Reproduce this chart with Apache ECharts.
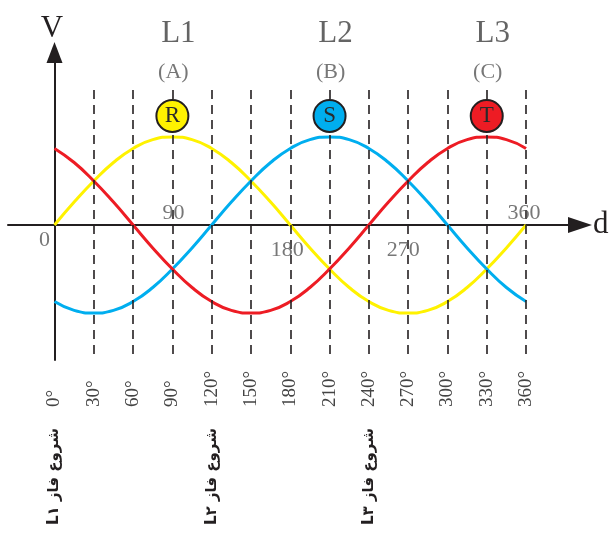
<!DOCTYPE html>
<html>
<head>
<meta charset="utf-8">
<script src="https://cdn.jsdelivr.net/npm/echarts@6/dist/echarts.min.js"></script>
<style>
  html, body { margin: 0; padding: 0; background: #fff; }
  #chart { width: 613px; height: 536px; }
</style>
</head>
<body>
<div id="chart"></div>
<script>
// angles in degrees, one sample every 15
const angles = [0, 15, 30, 45, 60, 75, 90, 105, 120, 135, 150, 165, 180,
  195, 210, 225, 240, 255, 270, 285, 300, 315, 330, 345, 360];
// normalised voltage (peak = 1)
const phaseL1 = [0, 0.26, 0.5, 0.71, 0.87, 0.97, 1, 0.97, 0.87, 0.71, 0.5, 0.26, 0,
  -0.26, -0.5, -0.71, -0.87, -0.97, -1, -0.97, -0.87, -0.71, -0.5, -0.26, 0];
const phaseL2 = [-0.87, -0.97, -1, -0.97, -0.87, -0.71, -0.5, -0.26, 0, 0.26, 0.5, 0.71, 0.87,
  0.97, 1, 0.97, 0.87, 0.71, 0.5, 0.26, 0, -0.26, -0.5, -0.71, -0.87];
const phaseL3 = [0.87, 0.71, 0.5, 0.26, 0, -0.26, -0.5, -0.71, -0.87, -0.97, -1, -0.97, -0.87,
  -0.71, -0.5, -0.26, 0, 0.26, 0.5, 0.71, 0.87, 0.97, 1, 0.97, 0.87];

const gridAngles = [30, 60, 90, 120, 150, 180, 210, 240, 270, 300, 330, 360];
const degreeTicks = [0, 30, 60, 90, 120, 150, 180, 210, 240, 270, 300, 330, 360];
const axisNumbers = [0, 90, 180, 270, 360];

const peakAngles = [90, 210, 330];
const peakNames = ['L1', 'L2', 'L3'];
const peakLetters = ['(A)', '(B)', '(C)'];
const peakSymbols = ['R', 'S', 'T'];

const startAngles = [0, 120, 240];
const startLabels = ['شروع فاز L۱', 'شروع فاز L۲', 'شروع فاز L۳'];

const colors = ['#fff200', '#00aeef', '#ed1c24'];
const ink = '#231f20';
const serif = '"Liberation Serif", "DejaVu Serif", serif';

const xMin = -35.5, xMax = 401.2;
const yMin = -1.534, yMax = 1.96;
const guideTop = 1.534;
const badgeY = 1.239;

const toPairs = vals => angles.map((a, i) => [a, vals[i]]);

const numberOffsets = { 0: [-10, 15], 90: [1, -12], 180: [-3, 25], 270: [-5, 25], 360: [-2, -12] };

const labelAxis = (values, margin, style, fmt) => ({
  type: 'value', min: xMin, max: xMax, position: 'bottom',
  axisLine: { show: false, onZero: false },
  axisTick: { show: false },
  splitLine: { show: false },
  axisLabel: Object.assign({
    customValues: values, rotate: 90, align: 'left', margin: margin, formatter: fmt
  }, style)
});

const chart = echarts.init(document.getElementById('chart'));
chart.setOption({
  animation: false,
  backgroundColor: '#fff',
  grid: { left: 8, right: 33, top: 52.5, bottom: 176 },
  xAxis: [
    {
      type: 'value', min: xMin, max: xMax,
      name: 'd', nameLocation: 'end', nameGap: 13,
      nameTextStyle: { fontFamily: serif, fontSize: 31, color: ink, verticalAlign: 'middle' },
      axisLine: { onZero: true, symbol: ['none', 'triangle'], symbolSize: [16, 24], lineStyle: { color: ink, width: 2 } },
      axisTick: { show: false }, axisLabel: { show: false }, splitLine: { show: false }
    },
    labelAxis(degreeTicks, 47, { fontFamily: serif, fontSize: 19, color: '#444' }, v => v + '°'),
    labelAxis(startAngles, 165, { fontFamily: '"DejaVu Sans", sans-serif', fontSize: 15, fontWeight: 'bold', color: ink },
      v => '\u202B' + startLabels[startAngles.indexOf(v)] + '\u202C')
  ],
  yAxis: {
    type: 'value', min: yMin, max: yMax,
    name: 'V', nameLocation: 'end', nameGap: 8,
    nameTextStyle: { fontFamily: serif, fontSize: 31, color: ink, padding: [0, 5, 0, 0] },
    axisLine: { onZero: true, symbol: ['none', 'triangle'], symbolSize: [16, 21], lineStyle: { color: ink, width: 2 } },
    axisTick: { show: false }, axisLabel: { show: false }, splitLine: { show: false }
  },
  series: [
    {
      name: 'guides', type: 'line', data: [], z: 1, silent: true,
      markLine: {
        silent: true, symbol: ['none', 'none'], label: { show: false },
        lineStyle: { color: ink, width: 1.6, type: [9, 6] },
        data: gridAngles.map(a => [{ coord: [a, guideTop] }, { coord: [a, yMin] }])
      }
    },
    ...[phaseL1, phaseL2, phaseL3].map((vals, i) => ({
      name: peakNames[i], type: 'line', data: toPairs(vals), smooth: true,
      symbol: 'none', z: 3, lineStyle: { color: colors[i], width: 3 }
    })),
    {
      name: 'badges', type: 'scatter', z: 5, symbolSize: 32,
      data: peakAngles.map((a, i) => ({ value: [a, badgeY], itemStyle: { color: colors[i] } })),
      itemStyle: { borderColor: ink, borderWidth: 2, opacity: 1 },
      label: {
        show: true, position: 'inside', fontFamily: serif, fontSize: 23, color: '#2a2a2a',
        formatter: p => peakSymbols[p.dataIndex]
      }
    },
    {
      name: 'names', type: 'scatter', z: 5, symbolSize: 0, clip: false,
      data: peakAngles.map(a => [a, badgeY]),
      label: {
        show: true, position: 'inside', offset: [6, -82], fontFamily: serif, fontSize: 31, color: '#3d3d3d',
        formatter: p => peakNames[p.dataIndex]
      }
    },
    {
      name: 'letters', type: 'scatter', z: 5, symbolSize: 0, clip: false,
      data: peakAngles.map(a => [a, badgeY]),
      label: {
        show: true, position: 'inside', offset: [1, -44], fontFamily: serif, fontSize: 22, color: '#555',
        formatter: p => peakLetters[p.dataIndex]
      }
    },
    {
      name: 'numbers', type: 'scatter', z: 5, symbolSize: 0, clip: false,
      data: axisNumbers.map(a => ({
        value: [a, 0],
        label: { offset: numberOffsets[a] }
      })),
      label: {
        show: true, position: 'inside', fontFamily: serif, fontSize: 22, color: '#555',
        formatter: p => String(p.value[0])
      }
    }
  ]
});
</script>
</body>
</html>
